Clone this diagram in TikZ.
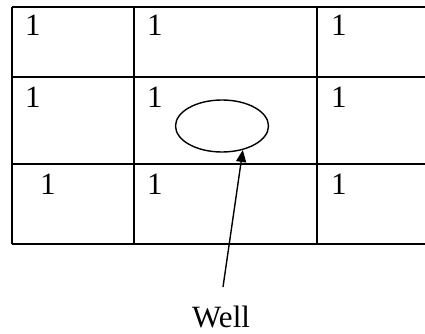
\documentclass[tikz,border=0pt]{standalone}
\usepackage{fontspec}
\setmainfont{Liberation Serif}
\usetikzlibrary{shapes.geometric,arrows.meta}
\begin{document}
\begin{tikzpicture}[x=1pt,y=-1pt,
  gridline/.style={line width=1.8pt},
  num/.style={anchor=base west,inner sep=0pt,font=\fontsize{31}{37}\selectfont},
  wellshape/.style={draw,ellipse,line width=1.4pt,minimum width=93pt,minimum height=52pt,inner sep=0pt},
  pointer/.style={line width=1.4pt,-{Triangle[length=12pt,width=10pt]}}]
\useasboundingbox (0,0) rectangle (425,334);
% grid
\foreach \yy in {7,77,164,244}{\draw[gridline] (12,\yy) -- (425,\yy);}
\foreach \xx in {12,134,317}{\draw[gridline] (\xx,7) -- (\xx,244);}
% numbers
\node[num] (a1) at (25,36) {1};
\node[num] (a2) at (147,36) {1};
\node[num] (a3) at (331,36) {1};
\node[num] (b1) at (25,107) {1};
\node[num] (b2) at (147,107) {1};
\node[num] (b3) at (331,107) {1};
\node[num] (c1) at (40,194) {1};
\node[num] (c2) at (147,194) {1};
\node[num] (c3) at (331,194) {1};
% well
\node[wellshape] (ell) at (222,126) {};
\node[num] (well) at (192,327) {Well};
\coordinate (tail) at (223,287);
\draw[pointer] (tail) -- (ell.-49);
\end{tikzpicture}
\end{document}
